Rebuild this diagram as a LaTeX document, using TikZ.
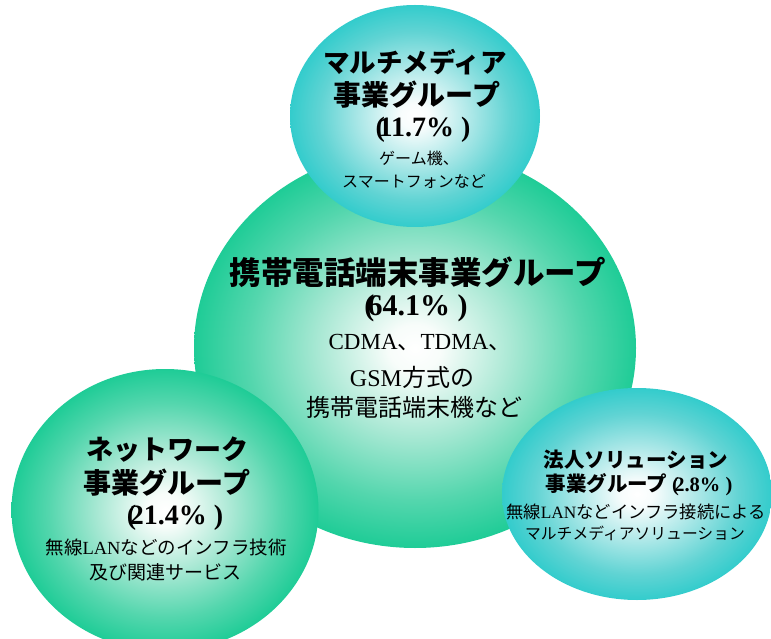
\documentclass[tikz,border=0pt]{standalone}
\usepackage{fontspec}
\setmainfont{Liberation Serif}
\newfontfamily\jp{Noto Sans CJK JP}
\usetikzlibrary{shapes.geometric}
\pgfdeclareradialshading{greenball}{\pgfpoint{0bp}{0bp}}{rgb(0bp)=(1,1,1); rgb(3bp)=(0.97,0.99,0.98); rgb(11bp)=(0.66,0.91,0.83); rgb(19bp)=(0.33,0.84,0.68); rgb(25bp)=(0.12,0.80,0.59); rgb(50bp)=(0.12,0.80,0.59)}
\pgfdeclareradialshading{cyanball}{\pgfpoint{0bp}{0bp}}{rgb(0bp)=(1,1,1); rgb(3bp)=(0.97,0.99,0.99); rgb(11bp)=(0.68,0.91,0.91); rgb(19bp)=(0.38,0.83,0.83); rgb(25bp)=(0.20,0.80,0.80); rgb(50bp)=(0.20,0.80,0.80)}
\tikzset{
  ball/.style={ellipse, draw=none, inner sep=0pt},
  gball/.style={ball, shading=greenball},
  cball/.style={ball, shading=cyanball},
  line/.style={inner sep=0pt, anchor=center, text=black},
  ttl/.style={line, font=\fontsize{#1}{#1}\selectfont\jp\bfseries},
  pct/.style={line, font=\fontsize{#1}{#1}\selectfont\bfseries},
  dsc/.style={line, font=\fontsize{#1}{#1}\selectfont\jp},
  ser/.style={line, font=\fontsize{#1}{#1}\selectfont},
}
\newcommand{\pctx}[1]{(\kern-0.22em#1\% )}
\begin{document}
\begin{tikzpicture}[x=1pt, y=-1pt]
\useasboundingbox (0,0) rectangle (771,639);
% circles
\node[gball, minimum width=442pt, minimum height=400pt] (mainb) at (415,348) {};
\node[cball, minimum width=250pt, minimum height=222pt] (topb) at (415,116) {};
\node[gball, minimum width=307pt, minimum height=282pt] (leftb) at (165,510) {};
\node[cball, minimum width=270pt, minimum height=212pt] (rightb) at (637,494) {};
% main texts
\node[ttl=31.5] (m1) at (418,272) {携帯電話端末事業グループ};
\node[pct=30] (m2) at (416,308) {\pctx{64.1}};
\node[ser=23] (m3) at (420,343) {CDMA{\jp 、}TDMA{\jp 、}};
\node[ser=24] (m4) at (412,377) {GSM{\jp 方式の}};
\node[dsc=24] (m5) at (414,407) {携帯電話端末機など};
% top texts
\node[ttl=26.5] (t1) at (415,62) {マルチメディア};
\node[ttl=28] (t2) at (417,95) {事業グループ};
\node[pct=28] (t3) at (423,130) {\pctx{11.7}};
\node[dsc=16] (t4) at (419,158) {ゲーム機、};
\node[dsc=16] (t5) at (414,181) {スマートフォンなど};
% left texts
\node[ttl=27] (l1) at (167,450) {ネットワーク};
\node[ttl=28] (l2) at (167,483) {事業グループ};
\node[pct=28] (l3) at (175,518) {\pctx{21.4}};
\node[ser=18.5] (l4) at (166,547) {{\jp 無線}LAN{\jp などのインフラ技術}};
\node[dsc=19] (l5) at (165,572) {及び関連サービス};
% right texts
\node[ttl=20.5] (r1) at (636,460) {法人ソリューション};
\node[ttl=20.5] (r2) at (639,485) {事業グループ {\rmfamily\pctx{2.8}}};
\node[ser=17.3] (r3) at (636,512) {{\jp 無線}LAN{\jp などインフラ接続による}};
\node[dsc=15.8] (r4) at (635,533) {マルチメディアソリューション};
\end{tikzpicture}
\end{document}
